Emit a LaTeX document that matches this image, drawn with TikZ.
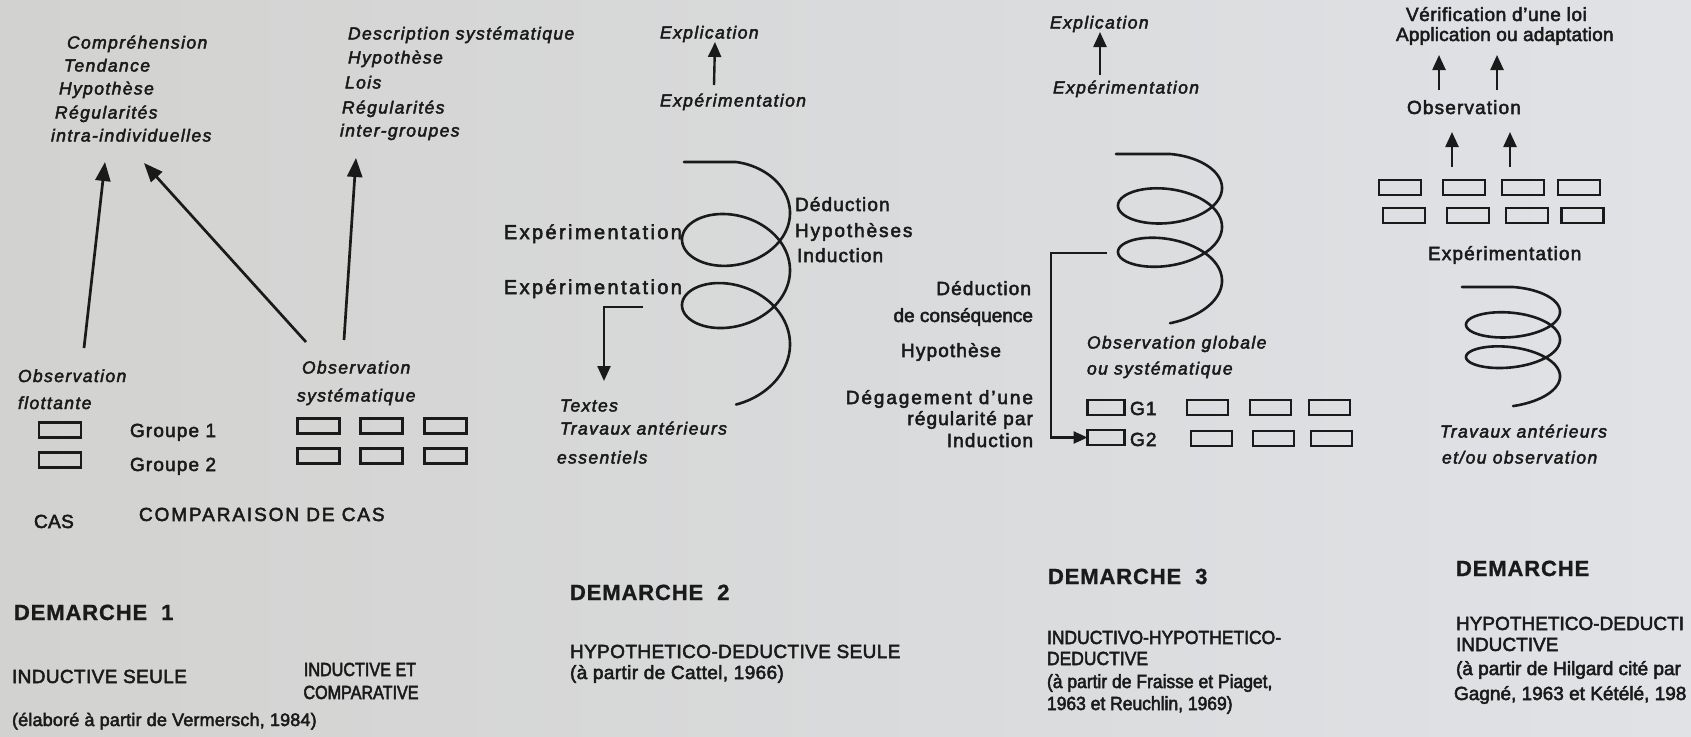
\documentclass[tikz,border=0pt]{standalone}
\usepackage{fontspec}
\setmainfont{Liberation Sans}
\usetikzlibrary{arrows.meta}
\definecolor{ink}{RGB}{26,26,26}
\definecolor{bgl}{RGB}{210,210,208}
\definecolor{bgm}{RGB}{234,234,234}
\definecolor{bgr}{RGB}{224,226,230}
\newcommand{\fb}{2.6}
\begin{document}
\begin{tikzpicture}[x=1pt,y=-1pt,
 every node/.style={inner sep=0pt, outer sep=0pt, text=ink},
 uplab/.style={anchor=base west, font=\fontsize{19}{22}\selectfont\addfontfeature{LetterSpace=6,FakeBold=\fb}},
 uplabr/.style={uplab, anchor=base east},
 widelab/.style={anchor=base east, font=\fontsize{20}{22}\selectfont\addfontfeature{LetterSpace=12,FakeBold=\fb}},
 itlab/.style={anchor=base west, font=\fontsize{17.5}{20}\selectfont\itshape\addfontfeature{LetterSpace=8,FakeBold=\fb}},
 captxt/.style={anchor=base west, font=\fontsize{19}{22}\selectfont\addfontfeature{LetterSpace=2,FakeBold=\fb}},
 tighttxt/.style={anchor=base west, font=\fontsize{19}{22}\selectfont\addfontfeature{LetterSpace=0,FakeBold=\fb}},
 smalltxt/.style={anchor=base west, font=\fontsize{19}{22}\selectfont\addfontfeature{LetterSpace=0,FakeStretch=0.92,FakeBold=\fb}},
 condtxt/.style={anchor=base, font=\fontsize{19}{22}\selectfont\addfontfeature{LetterSpace=0,FakeStretch=0.85,FakeBold=\fb}},
 demtxt/.style={anchor=base west, font=\fontsize{22}{24}\selectfont\bfseries\addfontfeature{LetterSpace=4,FakeBold=1}},
 gbox/.style={draw=ink, line width=2.4pt, minimum width=41pt, minimum height=15pt},
 arr/.style={draw=ink, line width=2.7pt, -{Triangle[length=19pt,width=15pt]}},
 sarr/.style={draw=ink, line width=2.4pt, -{Triangle[length=15pt,width=13pt]}},
 coil/.style={draw=ink, line width=2.6pt, line cap=round, line join=round},
]
\useasboundingbox (0,0) rectangle (1691,736);
\shade[left color=bgl, middle color=bgm, right color=bgr] (0,0) rectangle (1691,736);
\clip (0,0) rectangle (1691,736);

% ---------------- DEMARCHE 1 ----------------
\node[itlab] (c1) at (67,48.5) {Compréhension};
\node[itlab] (c2) at (64,71.5) {Tendance};
\node[itlab] (c3) at (59,94.5) {Hypothèse};
\node[itlab] (c4) at (55,118.5) {Régularités};
\node[itlab] (c5) at (51,141.5) {intra-individuelles};
\node[itlab] (d1) at (348,39.5) {Description systématique};
\node[itlab] (d2) at (348,63.5) {Hypothèse};
\node[itlab] (d3) at (345,88.5) {Lois};
\node[itlab] (d4) at (342,113.5) {Régularités};
\node[itlab] (d5) at (340,136.5) {inter-groupes};

\coordinate (s1a) at (84,348);  \coordinate (e1a) at (105,162);
\coordinate (s1b) at (306,342); \coordinate (e1b) at (144,163);
\coordinate (s1c) at (344,340); \coordinate (e1c) at (356,158);
\draw[arr] (s1a) -- (e1a);
\draw[arr] (s1b) -- (e1b);
\draw[arr] (s1c) -- (e1c);

\node[itlab] (of1) at (18,382) {Observation};
\node[itlab] (of2) at (18,409) {flottante};
\node[gbox, minimum width=42pt] (lb1) at (60,430) {};
\node[gbox, minimum width=42pt] (lb2) at (60,460) {};
\node[uplab] (gr1) at (130,437) {Groupe 1};
\node[uplab] (gr2) at (130,471) {Groupe 2};

\node[itlab] (os1) at (302,373.5) {Observation};
\node[itlab] (os2) at (297,401.5) {systématique};
\foreach \i/\x in {1/318.5,2/381.5,3/445.5}{
  \node[gbox, minimum width=42pt] (sa\i) at (\x,426) {};
  \node[gbox, minimum width=42pt] (sb\i) at (\x,456) {};
}
\node[captxt] (cas) at (34,528) {CAS};
\node[captxt, font=\fontsize{19}{22}\selectfont\addfontfeature{LetterSpace=10,FakeBold=\fb}] (comp) at (139,521) {COMPARAISON DE CAS};

\node[demtxt] (dem1) at (14,620) {DEMARCHE\ \ 1};
\node[captxt] (ind1) at (12,683) {INDUCTIVE SEULE};
\node[condtxt] (ind2a) at (360,676) {INDUCTIVE ET};
\node[condtxt] (ind2b) at (361,699) {COMPARATIVE};
\node[captxt, font=\fontsize{18}{20}\selectfont\addfontfeature{LetterSpace=1,FakeBold=\fb}] (src1) at (12,726) {(élaboré à partir de Vermersch, 1984)};

% ---------------- DEMARCHE 2 ----------------
\node[itlab] (expl2) at (660,38.5) {Explication};
\node[itlab] (exper2) at (660,106.5) {Expérimentation};
\coordinate (s2a) at (714,85); \coordinate (e2a) at (715,42);
\draw[sarr] (s2a) -- (e2a);

\node[widelab] (expA) at (682,239) {Expérimentation};
\node[widelab] (expB) at (682,294) {Expérimentation};
\node[uplab] (ded2) at (795,211) {Déduction};
\node[uplab, font=\fontsize{19}{22}\selectfont\addfontfeature{LetterSpace=10,FakeBold=\fb}] (hyp2) at (795,237) {Hypothèses};
\node[uplab] (ind2) at (797,262) {Induction};

\draw[coil] (684,162) -- (736,162) -- plot[domain=0:15.708,samples=320,variable=\t]
  ({736+54*sin(\t r)},{201.2+7.15*\t+0.21*\t*\t-39.2*cos(\t r)});

\coordinate (l2a) at (643,307); \coordinate (l2b) at (604,307); \coordinate (l2c) at (604,381);
\draw[sarr] (l2a) -- (l2b) -- (l2c);

\node[itlab] (tex) at (560,411.5) {Textes};
\node[itlab] (trav) at (560,434.5) {Travaux antérieurs};
\node[itlab] (ess) at (557,463.5) {essentiels};

\node[demtxt] (dem2) at (570,600) {DEMARCHE\ \ 2};
\node[captxt] (hd2) at (570,658) {HYPOTHETICO-DEDUCTIVE SEULE};
\node[captxt] (src2) at (570,679) {(à partir de Cattel, 1966)};

% ---------------- DEMARCHE 3 ----------------
\node[itlab] (expl3) at (1050,28.5) {Explication};
\node[itlab] (exper3) at (1053,93.5) {Expérimentation};
\coordinate (s3a) at (1100,75); \coordinate (e3a) at (1100,32);
\draw[sarr] (s3a) -- (e3a);

\draw[coil] (1116,154) -- (1170,154) -- plot[domain=0:15.708,samples=320,variable=\t]
  ({1170+52*sin(\t r)},{180.6+4.4*\t+0.19*\t*\t-26.6*cos(\t r)});

\node[uplabr] (ded3) at (1031,295) {Déduction};
\node[uplabr, font=\fontsize{19}{22}\selectfont\addfontfeature{LetterSpace=0,FakeBold=\fb}] (cons3) at (1033,322) {de conséquence};
\node[uplabr] (hyp3) at (1001,357) {Hypothèse};
\node[uplabr, font=\fontsize{19}{22}\selectfont\addfontfeature{LetterSpace=10,FakeBold=\fb}] (deg3) at (1033,404) {Dégagement d'une};
\node[uplabr] (reg3) at (1033,425) {régularité par};
\node[uplabr] (indn3) at (1033,447) {Induction};

\node[itlab] (og3) at (1087,348.5) {Observation globale};
\node[itlab] (ous3) at (1087,374.5) {ou systématique};

\node[gbox, minimum width=37pt] (ta1) at (1106,407.5) {};
\node[gbox, minimum width=37pt] (tb1) at (1106,437.5) {};
\foreach \i/\x in {2/1207.5,3/1270.5,4/1329.5}{
  \node[gbox] (ta\i) at (\x,407.5) {};
}
\foreach \i/\x in {2/1211.5,3/1273.5,4/1331.5}{
  \node[gbox] (tb\i) at (\x,438.5) {};
}
\node[uplab] (G1) at (1130,415) {G1};
\node[uplab] (G2) at (1130,446) {G2};

\coordinate (l3a) at (1107,253); \coordinate (l3b) at (1051,253);
\draw[draw=ink, line width=2.4pt, -{Triangle[length=14pt,width=12pt]}] (l3a) -- (l3b) |- (tb1.west);

\node[demtxt] (dem3) at (1048,584) {DEMARCHE\ \ 3};
\node[smalltxt] (ihd3a) at (1047,644) {INDUCTIVO-HYPOTHETICO-};
\node[smalltxt] (ihd3b) at (1047,665) {DEDUCTIVE};
\node[smalltxt] (src3a) at (1047,688) {(à partir de Fraisse et Piaget,};
\node[smalltxt] (src3b) at (1047,710) {1963 et Reuchlin, 1969)};

% ---------------- DEMARCHE 4 ----------------
\node[uplab, font=\fontsize{19}{22}\selectfont\addfontfeature{LetterSpace=3,FakeBold=\fb}] (ver4) at (1406,21) {Vérification d'une loi};
\node[uplab, font=\fontsize{19}{22}\selectfont\addfontfeature{LetterSpace=1,FakeBold=\fb}] (app4) at (1396,41) {Application ou adaptation};
\coordinate (s4a) at (1439,90);  \coordinate (e4a) at (1439,55);
\coordinate (s4b) at (1497,90);  \coordinate (e4b) at (1497,55);
\draw[sarr] (s4a) -- (e4a);
\draw[sarr] (s4b) -- (e4b);
\node[uplab] (obs4) at (1407,114) {Observation};
\coordinate (s4c) at (1452,167); \coordinate (e4c) at (1452,132);
\coordinate (s4d) at (1510,167); \coordinate (e4d) at (1510,132);
\draw[sarr] (s4c) -- (e4c);
\draw[sarr] (s4d) -- (e4d);
\foreach \i/\x in {1/1400,2/1464,3/1523,4/1579}{
  \node[gbox, minimum width=42pt] (ua\i) at (\x,187.5) {};
}
\foreach \i/\x in {1/1404,2/1468,3/1527,4/1582.5}{
  \node[gbox, minimum width=42pt] (ub\i) at (\x,215.5) {};
}
\node[uplab] (exp4) at (1428,260) {Expérimentation};

\draw[coil] (1462,287) -- (1513,287) -- plot[domain=0:15.708,samples=320,variable=\t]
  ({1513+47*sin(\t r)},{306.1+3.42*\t+0.11*\t*\t-19.1*cos(\t r)});

\node[itlab] (trav4) at (1440,437.5) {Travaux antérieurs};
\node[itlab] (et4) at (1442,463.5) {et/ou observation};

\node[demtxt] (dem4) at (1456,576) {DEMARCHE};
\node[tighttxt] (hd4a) at (1456,630) {HYPOTHETICO-DEDUCTI};
\node[tighttxt] (hd4b) at (1456,651) {INDUCTIVE};
\node[tighttxt] (src4a) at (1456,675) {(à partir de Hilgard cité par};
\node[tighttxt] (src4b) at (1454,700) {Gagné, 1963 et Kétélé, 198};
\end{tikzpicture}
\end{document}
